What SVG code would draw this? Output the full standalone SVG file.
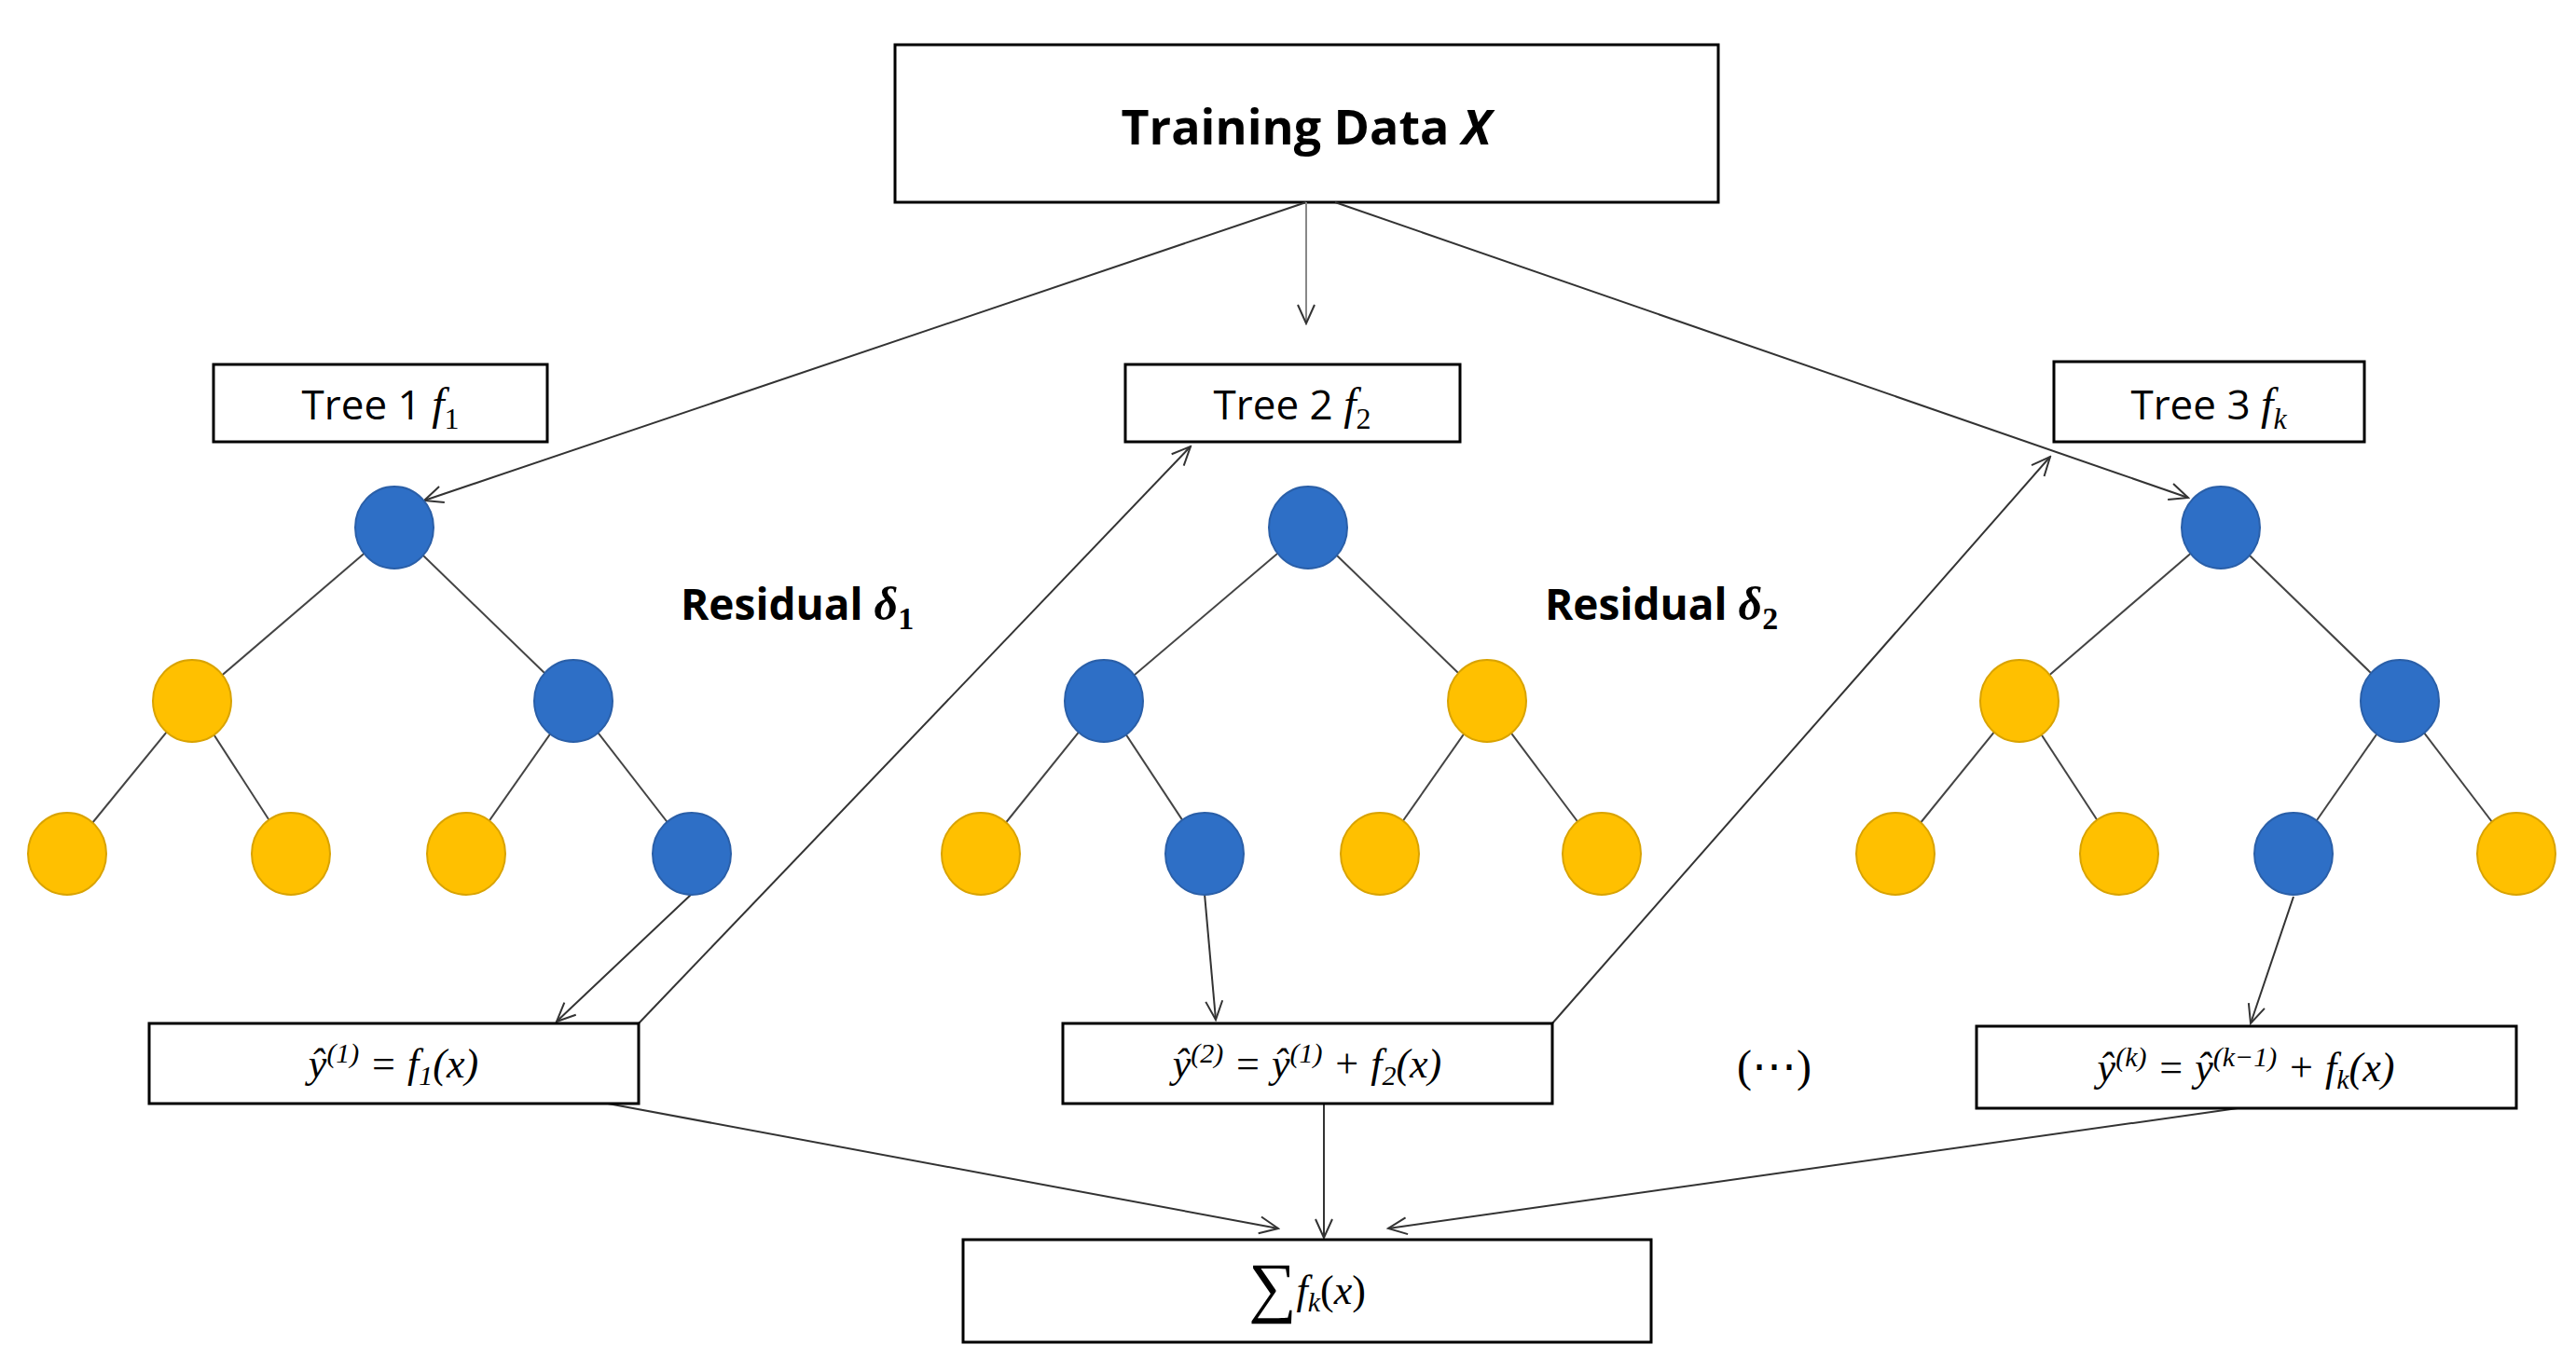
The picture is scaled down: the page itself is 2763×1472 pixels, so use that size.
<svg xmlns="http://www.w3.org/2000/svg" width="2763" height="1472" viewBox="0 0 2763 1472">
<defs>
<marker id="ah" markerWidth="24" markerHeight="24" refX="22" refY="12" orient="auto" markerUnits="userSpaceOnUse">
<path d="M2,3 L22,12 L2,21" fill="none" stroke="#333" stroke-width="2"/>
</marker>
</defs>
<style>
.box{fill:#fff;stroke:#000;stroke-width:3}
.b{fill:#2E6FC6;stroke:#2A5FA8;stroke-width:2}
.y{fill:#FFC000;stroke:#D9A300;stroke-width:2}
.e{stroke:#444;stroke-width:2}
.c{fill:none;stroke:#333;stroke-width:2;marker-end:url(#ah)}
.t{font-family:"Open Sans","Liberation Sans",sans-serif;fill:#000}
.m{font-family:"Liberation Serif",serif;font-style:italic;fill:#000}
.r{font-family:"Liberation Serif",serif;fill:#000}
</style>
<rect width="2763" height="1472" fill="#fff"/>
<g id="training"><rect class="box" x="960" y="48" width="883" height="169"/>
<text class="t" x="1401" y="155" font-size="52" font-weight="bold" text-anchor="middle">Training Data <tspan font-style="italic">X</tspan></text></g>
<g id="tree1label"><rect class="box" x="229" y="391" width="358" height="83"/>
<text class="t" x="408" y="450" font-size="44" text-anchor="middle">Tree 1 <tspan class="m" font-size="48">f</tspan><tspan class="r" font-size="32" dy="10">1</tspan></text></g>
<g id="tree2label"><rect class="box" x="1207" y="391" width="359" height="83"/>
<text class="t" x="1386" y="450" font-size="44" text-anchor="middle">Tree 2 <tspan class="m" font-size="48">f</tspan><tspan class="r" font-size="32" dy="10">2</tspan></text></g>
<g id="tree3label"><rect class="box" x="2203" y="388" width="333" height="86"/>
<text class="t" x="2369" y="450" font-size="44" text-anchor="middle">Tree 3 <tspan class="m" font-size="48">f</tspan><tspan class="m" font-size="32" dy="10">k</tspan></text></g>
<g id="connectors">
<line class="e" x1="423" y1="566" x2="206" y2="752"/><line class="e" x1="423" y1="566" x2="615" y2="752"/>
<line class="e" x1="206" y1="752" x2="72" y2="916"/><line class="e" x1="206" y1="752" x2="312" y2="916"/>
<line class="e" x1="615" y1="752" x2="500" y2="916"/><line class="e" x1="615" y1="752" x2="742" y2="916"/>
<line class="e" x1="1403" y1="566" x2="1184" y2="752"/><line class="e" x1="1403" y1="566" x2="1595" y2="752"/>
<line class="e" x1="1184" y1="752" x2="1052" y2="916"/><line class="e" x1="1184" y1="752" x2="1292" y2="916"/>
<line class="e" x1="1595" y1="752" x2="1480" y2="916"/><line class="e" x1="1595" y1="752" x2="1718" y2="916"/>
<line class="e" x1="2382" y1="566" x2="2166" y2="752"/><line class="e" x1="2382" y1="566" x2="2574" y2="752"/>
<line class="e" x1="2166" y1="752" x2="2033" y2="916"/><line class="e" x1="2166" y1="752" x2="2273" y2="916"/>
<line class="e" x1="2574" y1="752" x2="2460" y2="916"/><line class="e" x1="2574" y1="752" x2="2699" y2="916"/>
<line class="c" x1="1401" y1="217" x2="455" y2="537"/>
<line class="c" x1="1401" y1="217" x2="1401" y2="347" style="stroke:#888"/>
<line class="c" x1="1432" y1="217" x2="2347" y2="534"/>
<line class="c" x1="685" y1="1098" x2="1277" y2="479"/>
<line class="c" x1="1665" y1="1098" x2="2199" y2="490"/>
<line class="c" x1="742" y1="959" x2="597" y2="1096"/>
<line class="c" x1="1292" y1="959" x2="1304" y2="1094"/>
<line class="c" x1="2460" y1="962" x2="2414" y2="1098"/>
<line class="c" x1="652" y1="1184" x2="1371" y2="1318"/>
<line class="c" x1="1420" y1="1184" x2="1420" y2="1328"/>
<line class="c" x1="2400" y1="1189" x2="1489" y2="1318"/>
</g>
<g id="tree1">
<ellipse class="b" cx="423" cy="566" rx="42" ry="44"/>
<ellipse class="y" cx="206" cy="752" rx="42" ry="44"/><ellipse class="b" cx="615" cy="752" rx="42" ry="44"/>
<ellipse class="y" cx="72" cy="916" rx="42" ry="44"/><ellipse class="y" cx="312" cy="916" rx="42" ry="44"/>
<ellipse class="y" cx="500" cy="916" rx="42" ry="44"/><ellipse class="b" cx="742" cy="916" rx="42" ry="44"/>
</g>
<g id="tree2">
<ellipse class="b" cx="1403" cy="566" rx="42" ry="44"/>
<ellipse class="b" cx="1184" cy="752" rx="42" ry="44"/><ellipse class="y" cx="1595" cy="752" rx="42" ry="44"/>
<ellipse class="y" cx="1052" cy="916" rx="42" ry="44"/><ellipse class="b" cx="1292" cy="916" rx="42" ry="44"/>
<ellipse class="y" cx="1480" cy="916" rx="42" ry="44"/><ellipse class="y" cx="1718" cy="916" rx="42" ry="44"/>
</g>
<g id="tree3">
<ellipse class="b" cx="2382" cy="566" rx="42" ry="44"/>
<ellipse class="y" cx="2166" cy="752" rx="42" ry="44"/><ellipse class="b" cx="2574" cy="752" rx="42" ry="44"/>
<ellipse class="y" cx="2033" cy="916" rx="42" ry="44"/><ellipse class="y" cx="2273" cy="916" rx="42" ry="44"/>
<ellipse class="b" cx="2460" cy="916" rx="42" ry="44"/><ellipse class="y" cx="2699" cy="916" rx="42" ry="44"/>
</g>
<g id="residual1"><text class="t" x="730" y="665" font-size="46" font-weight="bold">Residual <tspan class="m" font-weight="bold" font-size="50">δ</tspan><tspan class="r" font-weight="bold" font-size="34" dy="10">1</tspan></text></g>
<g id="residual2"><text class="t" x="1657" y="665" font-size="46" font-weight="bold">Residual <tspan class="m" font-weight="bold" font-size="50">δ</tspan><tspan class="r" font-weight="bold" font-size="34" dy="10">2</tspan></text></g>
<g id="pred1"><rect class="box" x="160" y="1098" width="525" height="86"/>
<text class="m" x="422" y="1156" font-size="44" text-anchor="middle">ŷ<tspan class="r" font-size="30" dy="-16">(1)</tspan><tspan class="r" font-size="44" dy="16"> =  </tspan>f<tspan class="r" font-size="30" dy="8">1</tspan><tspan class="r" dy="-8">(</tspan>x<tspan class="r">)</tspan></text></g>
<g id="pred2"><rect class="box" x="1140" y="1098" width="525" height="86"/>
<text class="m" x="1402" y="1156" font-size="44" text-anchor="middle">ŷ<tspan class="r" font-size="30" dy="-16">(2)</tspan><tspan class="r" dy="16"> = </tspan>ŷ<tspan class="r" font-size="30" dy="-16">(1)</tspan><tspan class="r" dy="16"> + </tspan>f<tspan class="r" font-size="30" dy="8">2</tspan><tspan class="r" dy="-8">(</tspan>x<tspan class="r">)</tspan></text></g>
<g id="ellipsis"><text class="r" x="1903" y="1160" font-size="48" text-anchor="middle">(⋯)</text></g>
<g id="predk"><rect class="box" x="2120" y="1101" width="579" height="88"/>
<text class="m" x="2409" y="1160" font-size="44" text-anchor="middle">ŷ<tspan font-size="30" dy="-16"><tspan class="r">(</tspan>k<tspan class="r">)</tspan></tspan><tspan class="r" dy="16"> = </tspan>ŷ<tspan font-size="30" dy="-16"><tspan class="r">(</tspan>k<tspan class="r">−1)</tspan></tspan><tspan class="r" dy="16"> + </tspan>f<tspan font-size="30" dy="8">k</tspan><tspan class="r" dy="-8">(</tspan>x<tspan class="r">)</tspan></text></g>
<g id="sum"><rect class="box" x="1033" y="1330" width="738" height="110"/>
<text class="r" x="1402" y="1405" font-size="72" text-anchor="middle">∑<tspan class="m" font-size="44" dy="-6">f</tspan><tspan class="m" font-size="30" dy="8">k</tspan><tspan font-size="44" dy="-8">(</tspan><tspan class="m" font-size="44">x</tspan><tspan font-size="44">)</tspan></text></g>
</svg>
